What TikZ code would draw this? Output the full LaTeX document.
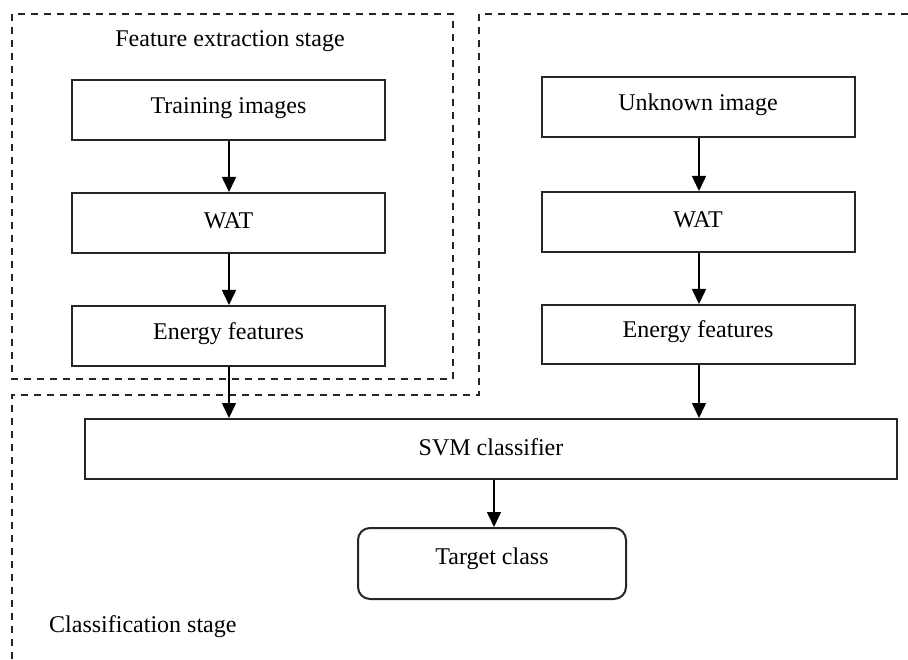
\documentclass[tikz,border=0pt]{standalone}
\usepackage{fontspec}
\setmainfont{Liberation Serif}
\usetikzlibrary{arrows.meta}
\begin{document}
\begin{tikzpicture}[x=1pt,y=-1pt,
  box/.style={draw=black!85,line width=2pt,minimum width=313pt,minimum height=60pt,inner sep=0pt},
  lbl/.style={font=\fontsize{24}{27}\selectfont,inner sep=0pt},
  stage/.style={draw=black!85,line width=2pt,dash pattern=on 7pt off 6pt},
  arr/.style={draw=black,line width=1.6pt,-{Triangle[length=15pt,width=14pt]}}]
\useasboundingbox (0,0) rectangle (908,660);
% stage regions
\draw[stage] (12,14) rectangle (453,379);
\draw[stage] (908,14) -- (479,14) -- (479,395) -- (12,395) -- (12,660);
\node[lbl] (fes) at (230,41) {Feature extraction stage};
\node[lbl,anchor=west] (cs) at (49,627) {Classification stage};
% left column
\node[box] (ti) at (228.5,110) {};
\node[lbl] at (228.5,108) {Training images};
\node[box] (w1) at (228.5,223) {};
\node[lbl] at (228.5,221) {WAT};
\node[box] (e1) at (228.5,336) {};
\node[lbl] at (228.5,334) {Energy features};
% right column
\node[box] (ui) at (698,107) {};
\node[lbl] at (698,105) {Unknown image};
\node[box] (w2) at (698,222) {};
\node[lbl] at (698,220) {WAT};
\node[box,minimum height=59pt] (e2) at (698,334.5) {};
\node[lbl] at (698,332) {Energy features};
% svm and target
\node[box,minimum width=812pt] (svm) at (491,449) {};
\node[lbl] at (491,447) {SVM classifier};
\node[box,minimum width=268pt,minimum height=71pt,rounded corners=12pt] (tc) at (492,563.5) {};
\node[lbl] at (492,559) {Target class};
% arrows
\draw[arr] (ti.south -| 229,0) -- (w1.north -| 229,0);
\draw[arr] (w1.south -| 229,0) -- (e1.north -| 229,0);
\draw[arr] (e1.south -| 229,0) -- (svm.north -| 229,0);
\draw[arr] (ui.south -| 699,0) -- (w2.north -| 699,0);
\draw[arr] (w2.south -| 699,0) -- (e2.north -| 699,0);
\draw[arr] (e2.south -| 699,0) -- (svm.north -| 699,0);
\draw[arr] (svm.south -| 494,0) -- (tc.north -| 494,0);
\end{tikzpicture}
\end{document}
